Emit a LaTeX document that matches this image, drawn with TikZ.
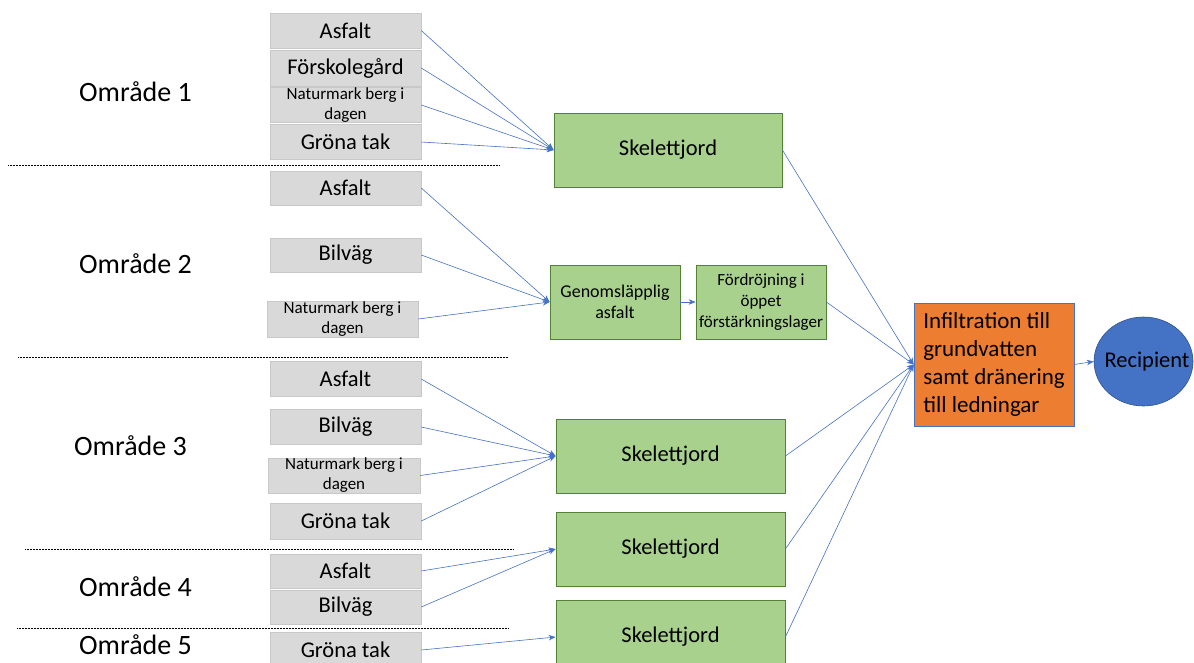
\documentclass[tikz,border=0pt]{standalone}
\usepackage{fontspec}
\setmainfont{Carlito}
\usetikzlibrary{arrows.meta,shapes.geometric}
\definecolor{surfgray}{HTML}{D9D9D9}
\definecolor{surfedge}{HTML}{C8C8C8}
\definecolor{soilgreen}{HTML}{A9D18E}
\definecolor{soiledge}{HTML}{548235}
\definecolor{infilorange}{HTML}{ED7D31}
\definecolor{flowblue}{HTML}{4472C4}
\definecolor{recedge}{HTML}{2F528F}
\tikzset{
    surface/.style={draw=surfedge, line width=0.5pt, fill=surfgray, minimum width=151pt, minimum height=35pt, inner sep=0pt, align=center, font=\fontsize{22.5}{24}\selectfont},
    smallsurface/.style={surface, font=\fontsize{17}{20}\selectfont},
    soil/.style={draw=soiledge, line width=0.8pt, fill=soilgreen, minimum width=229pt, minimum height=74pt, inner sep=0pt, align=center, font=\fontsize{22.5}{24}\selectfont},
    areatext/.style={font=\fontsize{28}{30}\selectfont, inner sep=0pt},
    divider/.style={line width=0.5pt, densely dotted},
    flow/.style={draw=flowblue, line width=0.6pt, -{Stealth[length=7pt,width=5.5pt]}}
}
\begin{document}
\begin{tikzpicture}[x=1pt, y=-1pt]
    \useasboundingbox (0, 0) rectangle (1194, 662);
    % area labels
    \node[areatext] (omr1) at (135.5, 92) {Område 1};
    \node[areatext] (omr2) at (135.5, 264) {Område 2};
    \node[areatext] (omr3) at (130.5, 446) {Område 3};
    \node[areatext] (omr4) at (135.5, 587) {Område 4};
    \node[areatext] (omr5) at (135.5, 645) {Område 5};
    % dividers
    \draw[divider] (8, 165) -- (499, 165);
    \draw[divider] (18, 357) -- (508, 357);
    \draw[divider] (25, 549) -- (513, 549);
    \draw[divider] (17, 628) -- (508, 628);
    % area 1
    \node[surface] (a1asf) at (345.5, 30.5) {Asfalt};
    \node[surface, minimum height=36pt] (a1fsk) at (345.5, 68) {Förskolegård};
    \node[smallsurface] (a1nat) at (345.5, 105) {Naturmark berg i\\dagen};
    \node[surface] (a1gt) at (345.5, 142) {Gröna tak};
    \node[soil, minimum width=228pt] (skel1) at (668, 150) {Skelettjord\vphantom{g}};
    % area 2
    \node[surface, minimum height=34pt] (a2asf) at (345.5, 188) {Asfalt};
    \node[surface, minimum height=34pt] (a2bil) at (345.5, 255) {Bilväg};
    \node[smallsurface, minimum height=36pt] (a2nat) at (342.5, 319) {Naturmark berg i\\dagen};
    \node[soil, minimum width=130pt, font=\fontsize{18}{21}\selectfont] (genom) at (615, 302) {Genomsläpplig\\asfalt};
    \node[soil, minimum width=130pt, font=\fontsize{17}{21}\selectfont] (fordr) at (761, 302) {Fördröjning i\\öppet\\förstärkningslager};
    % area 3
    \node[surface] (a3asf) at (345.5, 379) {Asfalt};
    \node[surface] (a3bil) at (345.5, 427) {Bilväg};
    \node[smallsurface, minimum width=152pt] (a3nat) at (344, 475.5) {Naturmark berg i\\dagen};
    \node[surface, minimum height=36pt] (a3gt) at (345.5, 521) {Gröna tak};
    \node[soil] (skel3) at (670.5, 456) {Skelettjord};
    % area 4
    \node[surface, minimum height=34pt] (a4asf) at (345.5, 571) {Asfalt};
    \node[surface, minimum height=34pt] (a4bil) at (345.5, 607) {Bilväg};
    \node[soil] (skel4) at (670.5, 549) {Skelettjord};
    % area 5
    \node[surface] (a5gt) at (345.5, 650) {Gröna tak};
    \node[soil] (skel5) at (670.5, 637) {Skelettjord};
    % outlet
    \node[draw=flowblue, line width=0.6pt, fill=infilorange, minimum width=160pt, minimum height=123pt, inner sep=0pt, align=left, font=\fontsize{23}{28}\selectfont] (infil) at (994, 364.5) {Infiltration till\\grundvatten\\samt dränering\\till ledningar};
    \node[ellipse, draw=recedge, line width=0.6pt, fill=flowblue, minimum width=99pt, minimum height=89pt, inner sep=0pt, font=\fontsize{22.5}{24}\selectfont] (recip) at (1143.5, 361.5) {\makebox[0pt]{\hspace{7pt}Recipient}};
    % connectors
    \foreach \src in {a1asf, a1fsk, a1nat, a1gt}
        \draw[flow] (\src.east) -- (skel1.west);
    \foreach \src in {a2asf, a2bil, a2nat}
        \draw[flow] (\src.east) -- (genom.west);
    \foreach \src in {a3asf, a3bil, a3nat, a3gt}
        \draw[flow] (\src.east) -- (skel3.west);
    \foreach \src in {a4asf, a4bil}
        \draw[flow] (\src.east) -- (skel4.west);
    \draw[flow] (a5gt.east) -- (skel5.west);
    \draw[flow] (genom.east) -- (fordr.west);
    \foreach \src in {skel1, fordr, skel3, skel4, skel5}
        \draw[flow] (\src.east) -- (infil.west);
    \draw[flow] (infil.east) -- (recip.west);
\end{tikzpicture}
\end{document}
